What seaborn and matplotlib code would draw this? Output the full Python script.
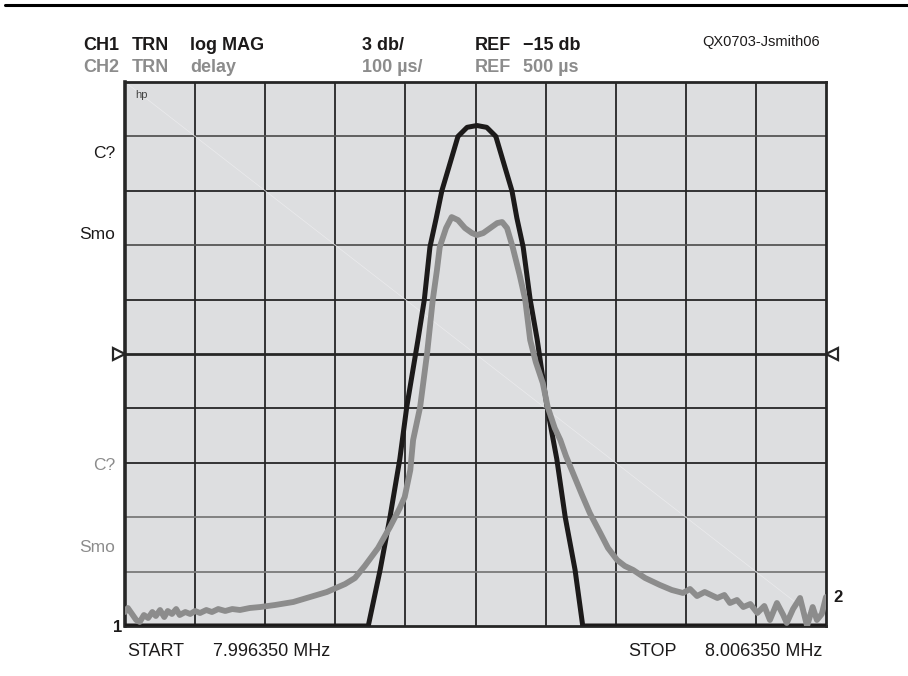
# network analyzer screen: CH1 log MAG (black) + CH2 delay (gray)

import numpy as np
import pandas as pd
import matplotlib.pyplot as plt
import seaborn as sns

# data (x = kHz above START frequency, 1 kHz per division)
# CH1 transmission, log MAG in dB (3 dB/div, REF -15 dB at centre)
ch1_khz = [0.00, 3.47, 3.64, 3.78, 3.92, 4.02, 4.18, 4.27, 4.35, 4.44, 4.52, 4.62,
           4.75, 4.88, 5.02, 5.16, 5.29, 5.42, 5.52, 5.59, 5.68, 5.78, 5.88, 6.02,
           6.16, 6.28, 6.42, 6.53, 10.00]
ch1_db = [-30.0, -30.0, -26.9, -24.0, -20.8, -17.9, -14.2, -12.0, -9.1, -7.5, -6.0, -4.7,
          -3.0, -2.5, -2.4, -2.5, -3.0, -4.7, -6.0, -7.5, -9.1, -12.0, -14.2, -17.9,
          -20.8, -24.0, -26.9, -30.0, -30.0]

# CH2 transmission, group delay in us (100 us/div, REF 500 us at centre)
ch2_khz = [0.00, 0.04, 0.10, 0.16, 0.21, 0.27, 0.33, 0.39, 0.44, 0.50, 0.56, 0.61,
           0.67, 0.73, 0.78, 0.86, 0.93, 1.00, 1.07, 1.16, 1.24, 1.33, 1.43, 1.53,
           1.64, 1.78, 1.93, 2.14, 2.40, 2.64, 2.88, 3.14, 3.28, 3.42, 3.61, 3.78,
           3.92, 3.99, 4.07, 4.11, 4.21, 4.31, 4.39, 4.45, 4.49, 4.58, 4.66, 4.75,
           4.85, 4.95, 5.02, 5.11, 5.21, 5.31, 5.38, 5.45, 5.53, 5.63, 5.71, 5.78,
           5.86, 5.96, 6.03, 6.13, 6.21, 6.29, 6.39, 6.52, 6.63, 6.78, 6.89, 7.02,
           7.13, 7.25, 7.42, 7.63, 7.80, 7.96, 8.06, 8.16, 8.27, 8.45, 8.55, 8.63,
           8.73, 8.82, 8.92, 9.02, 9.12, 9.20, 9.30, 9.39, 9.44, 9.53, 9.63, 9.73,
           9.81, 9.87, 9.94, 10.00]
ch2_us = [25.7, 33.1, 22.1, 11.0, 7.4, 20.2, 14.7, 25.7, 18.4, 29.4, 16.5, 27.6,
          22.1, 31.2, 20.2, 25.7, 22.1, 27.6, 23.9, 29.4, 25.7, 31.2, 27.6, 31.2,
          29.4, 33.1, 34.9, 38.6, 44.1, 53.3, 62.5, 77.2, 88.2, 110.3, 143.4, 182.0,
          216.9, 237.1, 286.7, 341.9, 402.5, 501.8, 599.2, 654.3, 696.6, 731.5, 751.7, 746.2,
          731.5, 722.3, 718.7, 722.3, 731.5, 740.7, 742.6, 731.5, 696.6, 645.1, 599.2, 525.7,
          485.2, 446.6, 402.5, 363.9, 341.9, 312.5, 281.3, 240.8, 207.7, 170.9, 143.4, 121.3,
          110.3, 102.9, 88.2, 75.4, 66.2, 60.7, 68.0, 55.1, 62.5, 51.5, 57.0, 42.3,
          47.8, 34.9, 40.4, 23.9, 36.8, 11.0, 42.3, 20.2, 5.5, 31.2, 51.5, 0.0,
          34.9, 11.0, 22.1, 53.3]

ch1 = pd.DataFrame({'khz': ch1_khz, 'db': ch1_db})
ch2 = pd.DataFrame({'khz': ch2_khz, 'us': ch2_us})

sns.set_style('white')
plt.rcParams['font.family'] = ['Liberation Sans', 'DejaVu Sans']

W, H = 908, 676
BLACK = '#1c1a1a'
GRAY = '#8c8c8c'
GRID = '#262626'


def fx(x):
    return x / W


def fy(y):
    return 1 - y / H


fig = plt.figure(figsize=(W / 100, H / 100), dpi=100)
ax = fig.add_axes([fx(125), fy(626), 701 / W, 544 / H])
ax.set_facecolor('#dddee0')
ax.set_xlim(0, 10)
ax.set_ylim(-30, 0)

# graticule
for v in range(1, 10):
    ax.axvline(v, color=GRID, lw=1.3, zorder=1)
hcolors = ['#7a7a7a', '#7a7a7a', GRID, GRID, None, GRID, '#555555', GRID, '#555555']
for i, c in enumerate(hcolors):
    if c is not None:
        ax.axhline(-27 + 3 * i, color=c, lw=1.3, zorder=1)
# faint diagonal
ax.plot([0, 1], [1, 0], transform=ax.transAxes, color='#ebebed', lw=0.5, zorder=1)
# centre reference line with markers
ax.plot([-0.012, 1.012], [0.5, 0.5], transform=ax.transAxes, color=GRID, lw=2,
        clip_on=False, zorder=2)
ax.plot([-0.008], [0.5], transform=ax.transAxes, marker='>', ms=8, mfc='white',
        mec=GRID, mew=1.6, clip_on=False, zorder=4)
ax.plot([1.008], [0.5], transform=ax.transAxes, marker='<', ms=8, mfc='white',
        mec=GRID, mew=1.6, clip_on=False, zorder=4)

sns.lineplot(data=ch1, x='khz', y='db', ax=ax, color=BLACK, lw=3.6,
             estimator=None, sort=False, zorder=3)
ax.set_xticks([])
ax.set_yticks([])
ax.set_xlabel('')
ax.set_ylabel('')
for s in ax.spines.values():
    s.set_color(GRID)
    s.set_linewidth(2)
ax.spines['left'].set_linewidth(2.6)

ax2 = ax.twinx()
sns.lineplot(data=ch2, x='khz', y='us', ax=ax2, color=GRAY, lw=4.2,
             estimator=None, sort=False, zorder=3)
ax2.set_ylim(0, 1000)
ax2.set_xlim(0, 10)
ax2.set_yticks([])
ax2.set_ylabel('')
for s in ax2.spines.values():
    s.set_visible(False)

ax.text(0.014, 0.985, 'hp', transform=ax.transAxes, fontsize=8, color='#444444',
        va='top', ha='left')

# header
hdr = 13
fig.text(fx(83), fy(45), 'CH1', fontsize=hdr, fontweight='bold', color=BLACK, va='center')
fig.text(fx(132), fy(45), 'TRN', fontsize=hdr, fontweight='bold', color=BLACK, va='center')
fig.text(fx(190), fy(45), 'log MAG', fontsize=hdr, fontweight='bold', color=BLACK, va='center')
fig.text(fx(362), fy(45), '3 db/', fontsize=hdr, fontweight='bold', color=BLACK, va='center')
fig.text(fx(475), fy(45), 'REF', fontsize=hdr, fontweight='bold', color=BLACK, va='center')
fig.text(fx(523), fy(45), '\u221215 db', fontsize=hdr, fontweight='bold', color=BLACK, va='center')
fig.text(fx(83), fy(67), 'CH2', fontsize=hdr, fontweight='bold', color=GRAY, va='center')
fig.text(fx(132), fy(67), 'TRN', fontsize=hdr, fontweight='bold', color=GRAY, va='center')
fig.text(fx(190), fy(67), 'delay', fontsize=hdr, fontweight='bold', color=GRAY, va='center')
fig.text(fx(362), fy(67), '100 \u00b5s/', fontsize=hdr, fontweight='bold', color=GRAY, va='center')
fig.text(fx(475), fy(67), 'REF', fontsize=hdr, fontweight='bold', color=GRAY, va='center')
fig.text(fx(523), fy(67), '500 \u00b5s', fontsize=hdr, fontweight='bold', color=GRAY, va='center')
fig.text(fx(702), fy(42), 'QX0703-Jsmith06', fontsize=10.5, color=BLACK, va='center')

# side labels
fig.text(fx(115), fy(153), 'C?', fontsize=12.5, color=BLACK, ha='right', va='center')
fig.text(fx(115), fy(235), 'Smo', fontsize=12.5, color=BLACK, ha='right', va='center')
fig.text(fx(115), fy(465), 'C?', fontsize=12.5, color=GRAY, ha='right', va='center')
fig.text(fx(115), fy(547), 'Smo', fontsize=12.5, color=GRAY, ha='right', va='center')
fig.text(fx(122), fy(628), '1', fontsize=12, fontweight='bold', color=BLACK, ha='right', va='center')
fig.text(fx(833), fy(598), '2', fontsize=12, fontweight='bold', color=BLACK, ha='left', va='center')

# footer
fig.text(fx(127), fy(652), 'START', fontsize=13, color=BLACK, va='center')
fig.text(fx(213), fy(652), '7.996350 MHz', fontsize=13, color=BLACK, va='center')
fig.text(fx(628), fy(652), 'STOP', fontsize=13, color=BLACK, va='center')
fig.text(fx(705), fy(652), '8.006350 MHz', fontsize=13, color=BLACK, va='center')

# rule along the top of the page
fig.add_artist(plt.Line2D([fx(5), 1], [fy(5), fy(5)], color='black', lw=2.2))

fig.savefig('out.png', dpi=100)
